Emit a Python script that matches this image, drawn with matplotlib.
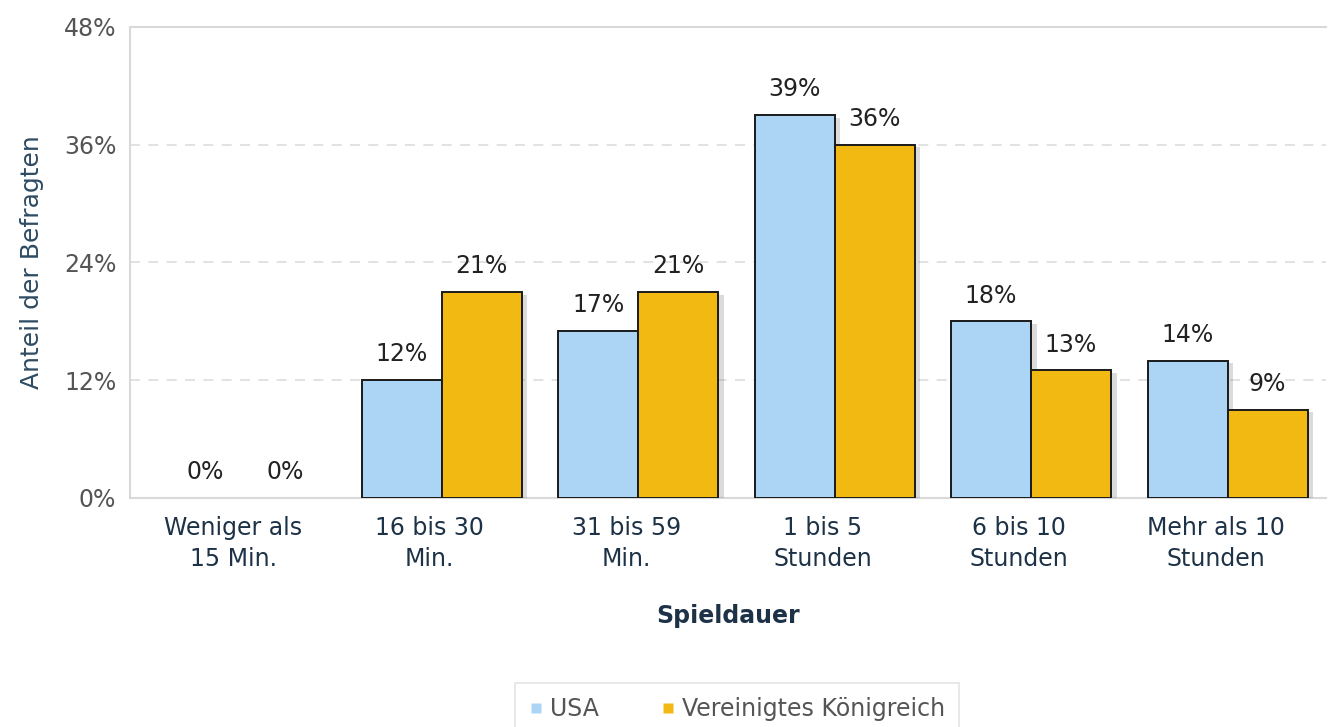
import matplotlib.pyplot as plt
import matplotlib.patheffects as pe
from matplotlib.lines import Line2D
import numpy as np

# Spieldauer pro Woche, Anteil der Befragten in %
categories = ["Weniger als\n15 Min.", "16 bis 30\nMin.", "31 bis 59\nMin.",
              "1 bis 5\nStunden", "6 bis 10\nStunden", "Mehr als 10\nStunden"]
usa = [0, 12, 17, 39, 18, 14]
uk = [0, 21, 21, 36, 13, 9]
series_names = ["USA", "Vereinigtes Königreich"]
yticks = [0, 12, 24, 36, 48]

blue = "#acd5f5"
gold = "#f3b913"
navy = "#1d3247"

plt.rcParams["font.family"] = "DejaVu Sans"
fig = plt.figure(figsize=(13.28, 7.27), dpi=100)
ax = fig.add_axes([0.098, 0.315, 0.9005, 0.648])

x = np.arange(len(categories))
w = 0.407
shadow = [pe.SimplePatchShadow(offset=(4, -2), shadow_rgbFace="#888888", alpha=0.3), pe.Normal()]

b1 = ax.bar(x - w / 2, usa, w, color=blue, edgecolor="#1a1a1a", linewidth=1.4, zorder=3)
b2 = ax.bar(x + w / 2, uk, w, color=gold, edgecolor="#1a1a1a", linewidth=1.4, zorder=3)
for b in list(b1) + list(b2):
    b.set_path_effects(shadow)
    if b.get_height() == 0:
        b.set_linewidth(0)

for bars, vals in ((b1, usa), (b2, uk)):
    for b, v in zip(bars, vals):
        ax.annotate(f"{v}%", (b.get_x() + b.get_width() / 2, v), xytext=(0, 13.5),
                    textcoords="offset points", ha="center", va="baseline",
                    fontsize=17, color="#222222", zorder=4)

ax.set_xlim(-0.585, 5.501)
ax.set_ylim(0, 48)
ax.set_yticks(yticks)
ax.set_yticklabels([f"{t}%" for t in yticks])
ax.set_xticks(x - 0.06)
ax.set_xticklabels(categories, linespacing=1.35)
ax.tick_params(axis="y", length=0, pad=10, labelsize=17, labelcolor="#555555")
ax.tick_params(axis="x", length=0, pad=13, labelsize=17, labelcolor=navy)

ax.yaxis.grid(True, linestyle=(0, (6, 5)), color="#dddddd", linewidth=1.2, zorder=0)
ax.spines["right"].set_visible(False)
for s in ("left", "top", "bottom"):
    ax.spines[s].set_color("#d9d9d9")
    ax.spines[s].set_linewidth(1.5)

ax.set_ylabel("Anteil der Befragten", fontsize=18, color="#2d4b63", labelpad=14)
ax.set_xlabel("Spieldauer", fontsize=17, fontweight="bold", color=navy, labelpad=24)

handles = [Line2D([], [], linestyle="none", marker="s", markersize=7,
                  markerfacecolor=c, markeredgecolor="none") for c in (blue, gold)]
leg = fig.legend(handles, series_names, loc="upper center", bbox_to_anchor=(0.555, 0.077),
                 ncol=2, fontsize=17, frameon=True, handlelength=0.6,
                 handletextpad=0.3, columnspacing=2.6, borderpad=0.6, fancybox=False)
for t in leg.get_texts():
    t.set_color("#555555")
leg.get_frame().set_edgecolor("#dddddd")
leg.get_frame().set_linewidth(1.2)

fig.savefig("out.png", dpi=100)
